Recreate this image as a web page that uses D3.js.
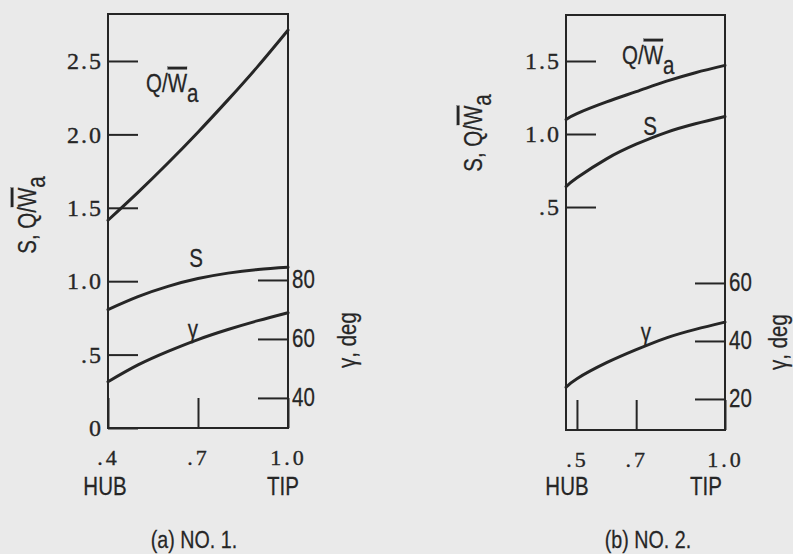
<!DOCTYPE html>
<html><head><meta charset="utf-8">
<script src="https://cdn.jsdelivr.net/npm/d3@7"></script>
<style>
html,body{margin:0;padding:0;background:#eaeaea;}
svg{display:block;}
.num{font-family:"Liberation Serif","Times New Roman",serif;fill:#262626;stroke:#262626;stroke-width:0.35px;}
.lab{font-family:"Liberation Sans",Arial,sans-serif;fill:#262626;stroke:#262626;stroke-width:0.25px;}
</style></head>
<body>
<svg id="c" width="793" height="554"></svg>
<script>
// ---- data ----
const radiusA = [0.4, 0.5, 0.6, 0.7, 0.8, 0.9, 1.0];
const qwA     = [1.415, 1.605, 1.805, 2.015, 2.235, 2.465, 2.71];
const sA      = [0.807, 0.895, 0.965, 1.018, 1.055, 1.08, 1.095];
const gammaA  = [45.5, 51.2, 55.8, 59.8, 63.2, 66.2, 68.9];

const radiusB = [0.463, 0.5, 0.6, 0.7, 0.8, 0.9, 1.0];
const qwB     = [1.10, 1.14, 1.22, 1.29, 1.36, 1.42, 1.47];
const sB      = [0.64, 0.70, 0.83, 0.93, 1.01, 1.07, 1.12];
const gammaB  = [24, 27, 32.5, 37, 41, 44, 46.5];

const xTicksA = [0.4, 0.7, 1.0];
const xTickLabelsA = [".4", ".7", "1.0"];
const xTicksB = [0.5, 0.7, 1.0];
const xTickLabelsB = [".5", ".7", "1.0"];
const yTicksA = [0, 0.5, 1.0, 1.5, 2.0, 2.5];
const yTickLabelsA = ["0", ".5", "1.0", "1.5", "2.0", "2.5"];
const yTicksB = [0.5, 1.0, 1.5];
const yTickLabelsB = [".5", "1.0", "1.5"];
const gTicksA = [40, 60, 80];
const gTicksB = [20, 40, 60];

const ink = "#262626";
const SX = 0.82; // horizontal squeeze to mimic the narrow lettering
const svg = d3.select("#c");

function narrow(g, x, y, size, anchor, rot){
  return g.append("text").attr("class", "lab").attr("font-size", size).attr("text-anchor", anchor)
    .attr("transform", `translate(${x},${y}) rotate(${rot || 0}) scale(${SX},1)`);
}

function panel(o){
  const g = svg.append("g");
  const x = d3.scaleLinear().domain(o.xDom).range([o.L, o.R]);
  const yL = d3.scaleLinear().domain(o.yDom).range([o.B, o.T]);
  const yR = d3.scaleLinear().domain(o.gDom).range([o.B, o.T]);

  g.append("rect").attr("x", o.L).attr("y", o.T).attr("width", o.R - o.L).attr("height", o.B - o.T)
    .attr("fill", "none").attr("stroke", ink).attr("stroke-width", 2);

  // left axis
  const ax = g.append("g").attr("transform", `translate(${o.L},0)`)
    .call(d3.axisLeft(yL).tickValues(o.yTicks).tickSize(-30).tickPadding(5)
      .tickFormat((d, i) => o.yTickLabels[i]));
  ax.select(".domain").remove();
  ax.selectAll("line").attr("stroke", ink).attr("stroke-width", 2);
  ax.selectAll("text").attr("class", "num").attr("font-size", 24).attr("letter-spacing", 2)
    .attr("fill", ink).attr("font-family", null);

  // right axis
  const ar = g.append("g").attr("transform", `translate(${o.R},0)`)
    .call(d3.axisRight(yR).tickValues(o.gTicks).tickSize(-30).tickPadding(4));
  ar.select(".domain").remove();
  ar.selectAll("line").attr("stroke", ink).attr("stroke-width", 2);
  ar.selectAll("text").attr("class", "lab").attr("font-size", 25).attr("fill", ink)
    .attr("x", 0).attr("transform", `translate(4,0) scale(${SX},1)`).attr("font-family", null);

  // bottom axis
  const ab = g.append("g").attr("transform", `translate(0,${o.B})`)
    .call(d3.axisBottom(x).tickValues(o.xTicks).tickSize(-30).tickPadding(21)
      .tickFormat((d, i) => o.xTickLabels[i]));
  ab.select(".domain").remove();
  ab.selectAll("line").attr("stroke", ink).attr("stroke-width", 2);
  ab.selectAll("text").attr("class", "num").attr("font-size", 22).attr("letter-spacing", 3)
    .attr("fill", ink).attr("font-family", null);

  // curves
  const mk = (ys, sc) => d3.line().x((d, i) => x(o.r[i])).y((d) => sc(d)).curve(d3.curveNatural)(ys);
  [[o.qw, yL], [o.s, yL], [o.gm, yR]].forEach(([ys, sc]) => {
    g.append("path").attr("d", mk(ys, sc)).attr("fill", "none").attr("stroke", ink)
      .attr("stroke-width", 3).attr("stroke-linecap", "round");
  });

  narrow(g, o.hubX, 495, 25, "middle").text("HUB");
  narrow(g, o.tipX, 495, 25, "middle").text("TIP");
  narrow(g, o.capX, 548, 24, "middle").text(o.caption);

  const q = narrow(g, o.qLab[0], o.qLab[1], 25, "start");
  q.append("tspan").text("Q/");
  q.append("tspan").attr("text-decoration", "overline").text("W");
  q.append("tspan").attr("dy", 10).text("a");
  narrow(g, o.sLab[0], o.sLab[1], 25, "middle").text("S");
  narrow(g, o.gLab[0], o.gLab[1], 25, "middle").text("γ");

  const lt = narrow(g, o.ltPos[0], o.ltPos[1], 25, "middle", -90);
  lt.append("tspan").text("S, Q/");
  lt.append("tspan").attr("text-decoration", "overline").text("W");
  lt.append("tspan").attr("dy", 9).text("a");
  narrow(g, o.rtPos[0], o.rtPos[1], 25, "middle", -90).text("γ, deg");
}

panel({L:108, R:288, T:14, B:428, xDom:[0.4,1.0], yDom:[0,2.82], gDom:[29.8,170.2],
  xTicks:xTicksA, xTickLabels:xTickLabelsA, yTicks:yTicksA, yTickLabels:yTickLabelsA, gTicks:gTicksA,
  r:radiusA, qw:qwA, s:sA, gm:gammaA, hubX:105, tipX:283, capX:194, caption:"(a) NO. 1.",
  qLab:[146,92], sLab:[196,267], gLab:[193,338], ltPos:[36,215], rtPos:[356,340]});

panel({L:566, R:725, T:15, B:430, xDom:[0.463,1.0], yDom:[-1.027,1.815], gDom:[9.3,152.4],
  xTicks:xTicksB, xTickLabels:xTickLabelsB, yTicks:yTicksB, yTickLabels:yTickLabelsB, gTicks:gTicksB,
  r:radiusB, qw:qwB, s:sB, gm:gammaB, hubX:567, tipX:706, capX:648, caption:"(b) NO. 2.",
  qLab:[622,64], sLab:[650,135], gLab:[646,341], ltPos:[482,133], rtPos:[787,342]});
</script>
</body></html>
